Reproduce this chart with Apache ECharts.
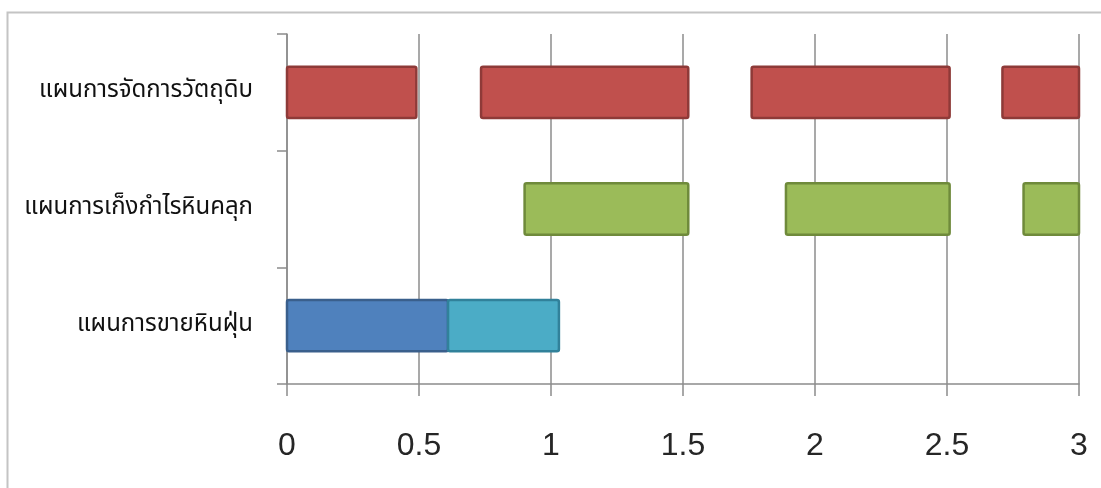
<!DOCTYPE html>
<html>
<head>
<meta charset="utf-8">
<script src="https://cdn.jsdelivr.net/npm/echarts@6/dist/echarts.min.js"></script>
<style>
  html, body { margin: 0; padding: 0; background: #ffffff; }
  #chart { width: 1101px; height: 488px; }
</style>
</head>
<body>
<div id="chart"></div>
<script>
// Plans, listed bottom to top on the vertical axis
const categories = ['แผนการขายหินฝุ่น', 'แผนการเก็งกำไรหินคลุก', 'แผนการจัดการวัตถุดิบ'];

// Time spans [start, end] for each plan
const dustSaleSpans = [[0, 0.61]];
const dustSaleSpans2 = [[0.61, 1.03]];
const speculationSpans = [[0.9, 1.52], [1.89, 2.51], [2.79, 3.0]];
const rawMaterialSpans = [[0, 0.49], [0.735, 1.52], [1.76, 2.51], [2.71, 3.0]];

// Axis ticks
const xTicks = [0, 0.5, 1, 1.5, 2, 2.5, 3];

const palette = {
  blue: { fill: '#4F81BD', edge: '#3A5F8C' },
  cyan: { fill: '#4BACC6', edge: '#31819A' },
  green: { fill: '#9BBB59', edge: '#6F8A3B' },
  red: { fill: '#C0504D', edge: '#8E3A38' }
};

function rows(spans, catIndex, colorKey) {
  return spans.map(s => ({ value: [s[0], s[1], catIndex], colorKey }));
}

const spanData = []
  .concat(rows(dustSaleSpans, 0, 'blue'))
  .concat(rows(dustSaleSpans2, 0, 'cyan'))
  .concat(rows(speculationSpans, 1, 'green'))
  .concat(rows(rawMaterialSpans, 2, 'red'));

function renderSpan(params, api) {
  const cat = api.value(2);
  const p0 = api.coord([api.value(0), cat]);
  const p1 = api.coord([api.value(1), cat]);
  const h = api.size([0, 1])[1] * 0.44;
  const item = spanData[params.dataIndex];
  const c = palette[item.colorKey];
  return {
    type: 'rect',
    shape: { x: p0[0], y: p0[1] - h / 2, width: p1[0] - p0[0], height: h, r: 2 },
    style: { fill: c.fill, stroke: c.edge, lineWidth: 2.5 }
  };
}

const chart = echarts.init(document.getElementById('chart'), null, { renderer: 'canvas' });
chart.setOption({
  backgroundColor: '#ffffff',
  animation: false,
  graphic: [{
    type: 'rect',
    shape: { x: 7.5, y: 12.5, width: 1200, height: 600 },
    style: { fill: 'none', stroke: '#C4C4C4', lineWidth: 2 },
    silent: true, z: 0
  }],
  grid: { left: 287, right: 22, top: 34, bottom: 104, containLabel: false },
  xAxis: {
    type: 'value',
    min: 0, max: 3, interval: 0.5,
    axisLine: { show: true, lineStyle: { color: '#8C8C8C', width: 1.5 } },
    axisTick: { show: true, length: 12, lineStyle: { color: '#8C8C8C', width: 1.5 } },
    splitLine: { show: true, lineStyle: { color: '#8C8C8C', width: 1.5 } },
    axisLabel: {
      margin: 46,
      fontSize: 32,
      color: '#262626',
      fontFamily: "'Liberation Sans', 'Open Sans', sans-serif",
      formatter: v => (xTicks.indexOf(v) >= 0 ? String(v) : '')
    }
  },
  yAxis: {
    type: 'category',
    data: categories,
    axisLine: { show: true, lineStyle: { color: '#8C8C8C', width: 1.5 } },
    axisTick: { show: true, length: 10, lineStyle: { color: '#8C8C8C', width: 1.5 } },
    splitLine: { show: false },
    axisLabel: {
      margin: 34,
      fontSize: 24,
      color: '#111111',
      fontFamily: "'Noto Sans Thai', 'Tahoma', 'DejaVu Sans', sans-serif"
    }
  },
  series: [{
    type: 'custom',
    renderItem: renderSpan,
    encode: { x: [0, 1], y: 2 },
    data: spanData.map(d => d.value),
    z: 3
  }]
});
</script>
</body>
</html>
